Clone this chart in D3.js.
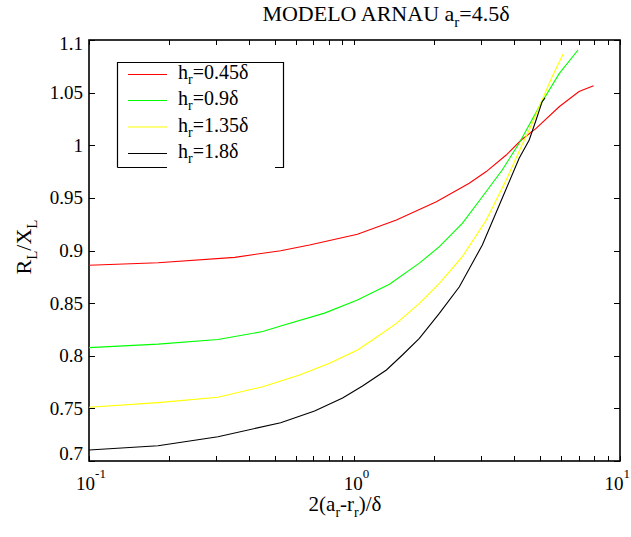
<!DOCTYPE html>
<html>
<head>
<meta charset="utf-8">
<script src="https://cdn.jsdelivr.net/npm/d3@7/dist/d3.min.js"></script>
<style>
  html, body { margin: 0; padding: 0; background: #fff; }
  svg { display: block; }
</style>
</head>
<body>
<svg id="chart" width="631" height="537" font-family="'Liberation Serif', 'DejaVu Serif', 'Times New Roman', Times, serif"></svg>
<script>
// R_L/X_L against 2(a_r - r_r)/delta for four values of h_r (a_r = 4.5 delta)
const seriesNames = ["0.45δ", "0.9δ", "1.35δ", "1.8δ"];
const seriesColors = ["#ff0000", "#00ff00", "#ffff00", "#000000"];

const xRed = [0.1, 0.182, 0.354, 0.527, 0.677, 1.026, 1.438, 2.034, 2.705, 3.135, 3.727, 4.245, 4.83, 5.90, 7.01, 7.95];
const yRed = [0.886, 0.8884, 0.8935, 0.8998, 0.9052, 0.9154, 0.929, 0.9464, 0.9639, 0.975, 0.9907, 1.005, 1.016, 1.0366, 1.051, 1.0566];

const xGreen = [0.1, 0.182, 0.306, 0.451, 0.527, 0.771, 1.026, 1.354, 1.755, 2.087, 2.547, 3.03, 3.60, 4.17, 4.96, 5.90, 6.95];
const yGreen = [0.8077, 0.811, 0.8155, 0.823, 0.8283, 0.8405, 0.853, 0.868, 0.888, 0.9036, 0.9258, 0.9511, 0.9765, 1.0019, 1.0366, 1.068, 1.0905];

const xYellow = [0.1, 0.182, 0.306, 0.451, 0.621, 0.805, 1.026, 1.169, 1.438, 1.755, 2.087, 2.547, 3.135, 3.727, 4.245, 4.55, 5.09, 5.55, 6.11];
const yYellow = [0.751, 0.7555, 0.7605, 0.7706, 0.7817, 0.7928, 0.8055, 0.815, 0.8308, 0.8498, 0.8688, 0.8941, 0.929, 0.967, 0.9986, 1.0145, 1.043, 1.065, 1.0867];

const xBlack = [0.1, 0.182, 0.306, 0.527, 0.7075, 0.902, 1.072, 1.319, 1.515, 1.755, 2.087, 2.483, 3.03, 3.60, 4.17, 4.55, 4.83, 5.09, 5.22];
const yBlack = [0.7104, 0.7145, 0.7231, 0.7364, 0.7475, 0.7598, 0.7712, 0.7865, 0.8007, 0.8166, 0.8403, 0.8656, 0.9052, 0.9496, 0.9876, 1.005, 1.024, 1.0414, 1.045];

const yTicks = [0.7, 0.75, 0.8, 0.85, 0.9, 0.95, 1, 1.05, 1.1];
const yTickLabels = ["0.7", "0.75", "0.8", "0.85", "0.9", "0.95", "1", "1.05", "1.1"];
const xMajorTicks = [0.1, 1, 10];
const xMajorExponents = ["-1", "0", "1"];

const series = [
  { x: xRed, y: yRed },
  { x: xGreen, y: yGreen },
  { x: xYellow, y: yYellow },
  { x: xBlack, y: yBlack }
];

const L = 89, R = 620, T = 40, B = 461;
const W = 631;
const svg = d3.select("#chart");

const x = d3.scaleLog().domain([0.1, 10]).range([L, R]);
const y = d3.scaleLinear().domain([0.7, 1.1]).range([B, T]);

// minor log ticks 2..9 in each decade
const xMinor = [];
[0.1, 1].forEach(d => { for (let k = 2; k <= 9; k++) xMinor.push(+(d * k).toPrecision(3)); });
const xAllTicks = xMajorTicks.concat(xMinor);

// plot frame
svg.append("rect")
  .attr("x", L).attr("y", T).attr("width", R - L).attr("height", B - T)
  .attr("fill", "none").attr("stroke", "#000").attr("stroke-width", 1.6);

// inward ticks on all four sides
const tickLen = 5;
const tg = svg.append("g").attr("stroke", "#000").attr("stroke-width", 1);
xAllTicks.forEach(v => {
  const px = Math.round(x(v)) + 0.5;
  tg.append("line").attr("x1", px).attr("x2", px).attr("y1", B).attr("y2", B - tickLen);
  tg.append("line").attr("x1", px).attr("x2", px).attr("y1", T).attr("y2", T + tickLen);
});
yTicks.forEach(v => {
  const py = Math.round(y(v)) + 0.5;
  tg.append("line").attr("x1", L).attr("x2", L + tickLen + 1).attr("y1", py).attr("y2", py);
  tg.append("line").attr("x1", R).attr("x2", R - tickLen - 1).attr("y1", py).attr("y2", py);
});

// y tick labels
yTicks.forEach((v, i) => {
  const py = Math.min(Math.max(y(v), 43), 453);
  svg.append("text")
    .attr("x", 83).attr("y", py + 6.5)
    .attr("text-anchor", "end")
    .attr("font-size", 19)
    .text(yTickLabels[i]);
});

// x tick labels as powers of ten, kept inside the page
xMajorTicks.forEach((v, i) => {
  const t = svg.append("text")
    .attr("x", x(v) + 2).attr("y", 490)
    .attr("text-anchor", "middle")
    .attr("font-size", 19);
  t.append("tspan").text("10");
  t.append("tspan").attr("dy", -12).attr("font-size", 13).text(xMajorExponents[i]);
  const bb = t.node().getBBox();
  if (bb.x + bb.width > W - 1) t.attr("x", x(v) + 2 - (bb.x + bb.width - (W - 1)));
});

// curves
const line = d3.line().x(d => x(d[0])).y(d => y(d[1]));
series.forEach((s, i) => {
  const pts = s.x.map((xv, j) => [xv, s.y[j]]);
  svg.append("path")
    .datum(pts)
    .attr("d", line)
    .attr("fill", "none")
    .attr("stroke", seriesColors[i])
    .attr("stroke-width", 1.1);
});

// text with subscripts: parts = [[text, isSub], ...]
function richText(g, parts, subSize, subShift) {
  let shifted = false;
  parts.forEach(([s, sub]) => {
    const ts = g.append("tspan").text(s);
    if (sub) ts.attr("font-size", subSize);
    if (sub && !shifted) { ts.attr("dy", subShift); shifted = true; }
    else if (!sub && shifted) { ts.attr("dy", -subShift); shifted = false; }
  });
  return g;
}

// title
richText(svg.append("text").attr("x", 386).attr("y", 21).attr("text-anchor", "middle").attr("font-size", 22),
  [["MODELO ARNAU a", false], ["r", true], ["=4.5δ", false]], 15, 6);

// x axis label
richText(svg.append("text").attr("x", 345).attr("y", 511).attr("text-anchor", "middle").attr("font-size", 21),
  [["2(a", false], ["r", true], ["-r", false], ["r", true], [")/δ", false]], 14, 6);

// y axis label
richText(svg.append("text")
    .attr("transform", "translate(31,247) rotate(-90)")
    .attr("text-anchor", "middle").attr("font-size", 22),
  [["R", false], ["L", true], ["/X", false], ["L", true]], 15, 6);

// legend box (bottom edge interrupted under the last entry)
const lg = svg.append("g");
const boxL = 117.5, boxR = 283.5, boxT = 62.5, boxB = 167.5;
lg.append("path")
  .attr("d", `M${boxL},${boxB} L${boxL},${boxT} L${boxR},${boxT} L${boxR},${boxB} L275,${boxB} M${boxL},${boxB} L167,${boxB}`)
  .attr("fill", "none").attr("stroke", "#000").attr("stroke-width", 1.2);
const legRowY = [79, 105, 131.5, 158];
seriesNames.forEach((name, i) => {
  lg.append("line")
    .attr("x1", 128).attr("x2", 167)
    .attr("y1", legRowY[i] - 4.5).attr("y2", legRowY[i] - 4.5)
    .attr("stroke", seriesColors[i]).attr("stroke-width", 1.1);
  richText(lg.append("text").attr("x", 178).attr("y", legRowY[i]).attr("font-size", 20),
    [["h", false], ["r", true], ["=" + name, false]], 14, 5);
});
</script>
</body>
</html>
